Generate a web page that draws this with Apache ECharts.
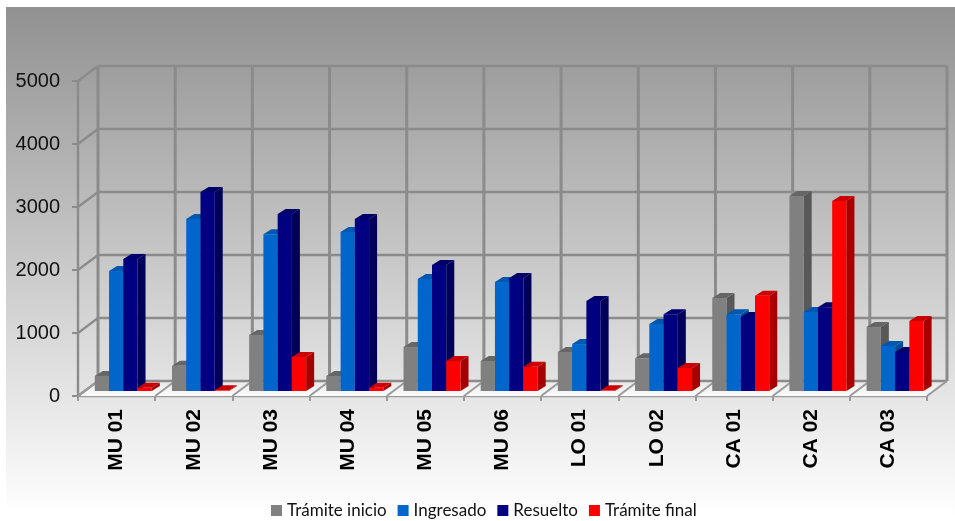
<!DOCTYPE html>
<html>
<head>
<meta charset="utf-8">
<style>
  html, body { margin: 0; padding: 0; background: #fff; }
  #chart { width: 955px; height: 521px; }
</style>
<script src="https://cdn.jsdelivr.net/npm/echarts@6/dist/echarts.min.js"></script>
</head>
<body>
<div id="chart"></div>
<script>
var categories = ['MU 01', 'MU 02', 'MU 03', 'MU 04', 'MU 05', 'MU 06', 'LO 01', 'LO 02', 'CA 01', 'CA 02', 'CA 03'];
var valueTicks = [0, 1000, 2000, 3000, 4000, 5000];
var tramiteInicio = [240, 400, 890, 240, 700, 476, 620, 520, 1475, 3095, 1015];
var ingresado = [1905, 2730, 2490, 2525, 1778, 1730, 745, 1065, 1220, 1255, 715];
var resuelto = [2095, 3160, 2810, 2730, 2000, 1795, 1430, 1220, 1175, 1330, 620];
var tramiteFinal = [50, 10, 540, 50, 476, 385, 10, 365, 1510, 3015, 1110];

var seriesNames = ['Trámite inicio', 'Ingresado', 'Resuelto', 'Trámite final'];
var seriesValues = [tramiteInicio, ingresado, resuelto, tramiteFinal];
var faceColors = ['#808080', '#0066cc', '#000080', '#ff0000'];
var sideColors = ['#585858', '#004c99', '#000058', '#a60000'];
var topColors = ['#666666', '#0057ad', '#00006b', '#cc0000'];

// depth of the fake 3d box and of each bar
var wallDx = 20, wallDy = -15;
var barDx = 8, barDy = -5;
var barW = 14.25;
var barShiftX = 6.7, barShiftY = -5;
var wallColor = '#8b8b8b';

function line(x1, y1, x2, y2, width, color) {
    return {
        type: 'line',
        shape: { x1: x1, y1: y1, x2: x2, y2: y2 },
        style: { stroke: color || wallColor, lineWidth: width || 2.6 }
    };
}

function renderWalls(params, api) {
    var band = api.size([1, 0])[0];
    var left = api.coord([0, 0])[0] - band / 2;
    var right = left + band * categories.length;
    var zeroY = api.coord([0, 0])[1];
    var topY = api.coord([0, valueTicks[valueTicks.length - 1]])[1];
    var children = [];

    children.push({
        type: 'polygon',
        shape: { points: [[left, zeroY], [left + wallDx, zeroY + wallDy], [right + wallDx, zeroY + wallDy], [right, zeroY]] },
        style: {
            fill: new echarts.graphic.LinearGradient(0, 0, 0, 1, [
                { offset: 0, color: '#e8e8e8' },
                { offset: 1, color: '#fbfbfb' }
            ])
        }
    });
    valueTicks.forEach(function (v) {
        var y = api.coord([0, v])[1];
        children.push(line(left, y, left + wallDx, y + wallDy, 2.2));
        children.push(line(left + wallDx, y + wallDy, right + wallDx, y + wallDy));
    });
    for (var k = 0; k <= categories.length; k++) {
        var x = left + band * k;
        children.push(line(x + wallDx, topY + wallDy, x + wallDx, zeroY + wallDy, 3));
        children.push(line(x, zeroY, x + wallDx, zeroY + wallDy, 2, '#9a9a9a'));
    }
    return { type: 'group', children: children };
}

function renderBar(seriesIndex) {
    return function (params, api) {
        var base = api.coord([api.value(0), 0]);
        var top = api.coord([api.value(0), api.value(1)]);
        var x0 = base[0] + barShiftX + (seriesIndex - 2) * barW;
        var x1 = x0 + barW;
        var y0 = base[1] + barShiftY;
        var y1 = top[1] + barShiftY;
        return {
            type: 'group',
            children: [
                {
                    type: 'polygon',
                    shape: { points: [[x1, y0], [x1 + barDx, y0 + barDy], [x1 + barDx, y1 + barDy], [x1, y1]] },
                    style: { fill: sideColors[seriesIndex] }
                },
                {
                    type: 'polygon',
                    shape: { points: [[x0, y1], [x0 + barDx, y1 + barDy], [x1 + barDx, y1 + barDy], [x1, y1]] },
                    style: { fill: topColors[seriesIndex] }
                },
                {
                    type: 'rect',
                    shape: { x: x0, y: y1, width: barW, height: y0 - y1 },
                    style: { fill: faceColors[seriesIndex] }
                }
            ]
        };
    };
}

var series = [{
    name: 'walls',
    type: 'custom',
    silent: true,
    clip: false,
    data: [[0, 0]],
    encode: { x: 0, y: 1 },
    renderItem: renderWalls
}];
seriesNames.forEach(function (name, i) {
    series.push({
        name: name,
        type: 'custom',
        clip: false,
        itemStyle: { color: faceColors[i] },
        data: seriesValues[i].map(function (v, k) { return [k, v]; }),
        encode: { x: 0, y: 1 },
        renderItem: renderBar(i)
    });
});

var myChart = echarts.init(document.getElementById('chart'));
myChart.setOption({
    animation: false,
    backgroundColor: '#ffffff',
    graphic: [{
        type: 'rect',
        z: -10,
        silent: true,
        shape: { x: 6, y: 7, width: 949, height: 508 },
        style: {
            fill: new echarts.graphic.LinearGradient(0, 0, 0, 1, [
                { offset: 0, color: '#919191' },
                { offset: 1, color: '#ffffff' }
            ])
        }
    }],
    grid: { left: 78, right: 28, top: 81, bottom: 125 },
    legend: {
        data: seriesNames,
        left: 271,
        top: 502,
        padding: 0,
        itemGap: 11,
        itemWidth: 11,
        itemHeight: 11,
        icon: 'rect',
        textStyle: { fontFamily: 'Lato', fontSize: 17, color: '#111111' }
    },
    xAxis: {
        type: 'category',
        data: categories,
        axisLine: { lineStyle: { color: '#9a9a9a', width: 2.4 } },
        axisTick: { show: true, length: 5, alignWithLabel: false, lineStyle: { color: '#9a9a9a', width: 2 } },
        axisLabel: {
            rotate: 90,
            margin: 13,
            interval: 0,
            fontFamily: 'Liberation Sans',
            fontWeight: 'bold',
            fontSize: 21,
            color: '#000000'
        },
        splitLine: { show: false }
    },
    yAxis: {
        type: 'value',
        min: 0,
        max: 5000,
        interval: 1000,
        axisLine: { show: true, lineStyle: { color: wallColor, width: 2.4 } },
        axisTick: { show: true, length: 6, lineStyle: { color: wallColor, width: 2 } },
        axisLabel: {
            margin: 18,
            fontFamily: 'Liberation Sans',
            fontSize: 20,
            color: '#111111',
            formatter: function (v) { return String(v); }
        },
        splitLine: { show: false }
    },
    series: series
});
</script>
</body>
</html>
